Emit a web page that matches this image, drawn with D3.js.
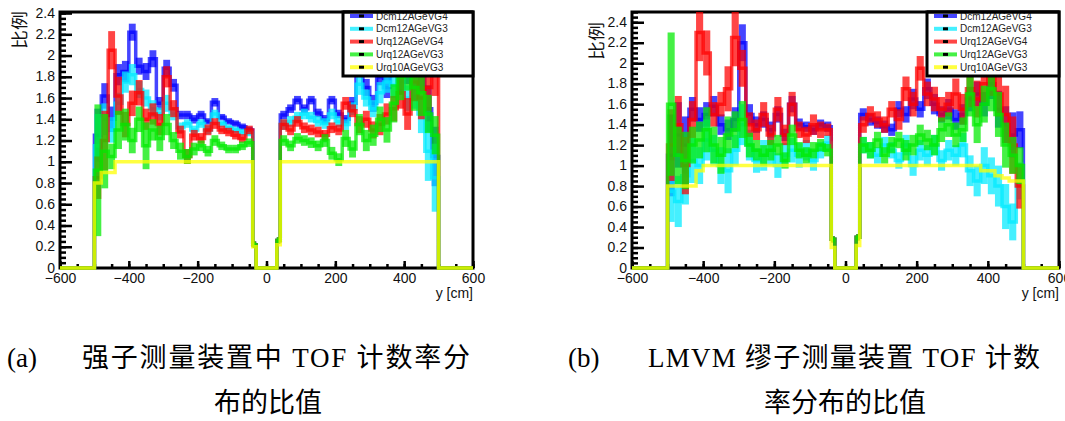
<!DOCTYPE html>
<html><head><meta charset="utf-8">
<script src="https://cdn.jsdelivr.net/npm/d3@7"></script>
<style>body{margin:0;background:#fff;} svg{display:block;}</style>
</head><body>
<svg id="c" width="1065" height="421"></svg>
<script>
// ---------- data ----------
const seriesNames = ["Dcm12AGeVG4","Dcm12AGeVG3","Urq12AGeVG4","Urq12AGeVG3","Urq10AGeVG3"];
const xTickValues = [-600,-400,-200,0,200,400,600];
const yTickValues = [0,0.2,0.4,0.6,0.8,1,1.2,1.4,1.6,1.8,2,2.2,2.4];
const leftEdges  = [-500,-480,-460,-440,-420,-400,-380,-360,-340,-320,-300,-280,-260,-240,-220,-200,-180,-160,-140,-120,-100,-80,-60,-40];
const rightEdges = [40,60,80,100,120,140,160,180,200,220,240,260,280,300,320,340,360,380,400,420,440,460,480,500];
const gapEdges = [-30, 30];

// panel (a)
const aDcmG4L = [1.25,1.62,1.40,1.82,1.85,2.22,1.90,1.85,1.97,1.55,1.88,1.72,1.44,1.44,1.40,1.44,1.38,1.56,1.42,1.38,1.36,1.33,1.30];
const aDcmG3L = [1.15,1.40,1.30,1.55,1.75,1.82,1.68,1.60,1.50,1.45,1.55,1.45,1.32,1.36,1.30,1.36,1.30,1.45,1.36,1.32,1.30,1.28,1.27];
const aUrqG4L = [0.85,1.20,2.05,1.62,1.35,1.55,1.65,1.40,1.45,1.35,1.80,1.50,1.28,1.05,1.25,1.22,1.30,1.36,1.30,1.28,1.25,1.22,1.30];
const aUrqG3L = [0.92,1.10,1.05,1.30,1.35,1.20,1.40,1.15,1.30,1.22,1.35,1.20,1.10,1.05,1.12,1.15,1.10,1.20,1.15,1.12,1.12,1.15,1.18];
const aU10G3L = [0.80,0.90,0.90,1,1,1,1,1,1,1,1,1,1,1,1,1,1,1,1,1,1,1,1];
const aDcmG4R = [1.44,1.50,1.58,1.50,1.58,1.46,1.40,1.58,1.45,1.40,1.55,1.95,1.70,1.55,1.80,1.70,1.95,1.75,1.85,1.70,1.80,1.50,1.05];
const aDcmG3R = [1.35,1.38,1.42,1.45,1.42,1.38,1.36,1.45,1.38,1.35,1.50,1.73,1.60,1.50,1.65,1.75,1.72,1.80,1.60,1.65,1.45,1.10,0.85];
const aUrqG4R = [1.35,1.30,1.38,1.32,1.30,1.28,1.25,1.32,1.30,1.55,1.48,1.35,1.40,1.30,1.35,1.45,1.50,1.65,1.45,1.75,1.60,1.70,1.90];
const aUrqG3R = [1.20,1.15,1.22,1.20,1.18,1.15,1.20,1.08,1.02,1.22,1.12,1.35,1.20,1.25,1.40,1.30,1.55,1.80,1.95,1.70,1.65,1.45,1.25];
const aU10G3R = [1,1,1,1,1,1,1,1,1,1,1,1,1,1,1,1,1,1,1,1,1,1,1];
const aDcmG4LErr = [0.25,0.12,0.12,0.10,0.10,0.08,0.08,0.08,0.08,0.06,0.08,0.06,0.04,0.04,0.04,0.04,0.03,0.04,0.03,0.03,0.03,0.03,0.03];
const aDcmG3LErr = [0.30,0.15,0.12,0.10,0.10,0.10,0.08,0.08,0.08,0.06,0.08,0.06,0.05,0.04,0.04,0.04,0.04,0.04,0.03,0.03,0.03,0.03,0.03];
const aUrqG4LErr = [0.20,0.28,0.18,0.18,0.12,0.12,0.12,0.10,0.10,0.10,0.10,0.08,0.06,0.07,0.05,0.05,0.05,0.05,0.04,0.04,0.04,0.04,0.04];
const aUrqG3LErr = [0.62,0.35,0.12,0.18,0.15,0.12,0.12,0.22,0.10,0.12,0.10,0.08,0.08,0.07,0.06,0.05,0.05,0.05,0.04,0.04,0.04,0.04,0.04];
const aDcmG4RErr = [0.04,0.04,0.04,0.04,0.04,0.04,0.04,0.04,0.04,0.04,0.06,0.10,0.08,0.08,0.08,0.10,0.12,0.12,0.12,0.12,0.15,0.22,0.28];
const aDcmG3RErr = [0.05,0.05,0.05,0.05,0.05,0.05,0.05,0.05,0.05,0.05,0.06,0.10,0.08,0.08,0.10,0.10,0.12,0.12,0.12,0.15,0.18,0.28,0.32];
const aUrqG4RErr = [0.05,0.05,0.05,0.05,0.05,0.05,0.05,0.05,0.05,0.06,0.06,0.08,0.08,0.08,0.10,0.10,0.12,0.15,0.15,0.18,0.20,0.22,0.28];
const aUrqG3RErr = [0.05,0.05,0.05,0.05,0.05,0.05,0.06,0.06,0.06,0.08,0.08,0.10,0.10,0.10,0.12,0.12,0.18,0.22,0.28,0.22,0.22,0.18,0.18];
const aGapValues = [0.22, 0.26];

// panel (b)
const bDcmG4L = [1.10,1.30,1.20,1.55,1.45,1.50,1.58,1.40,1.35,1.45,2.20,1.50,1.40,1.45,1.35,1.50,1.30,1.60,1.40,1.38,1.35,1.40,1.38];
const bDcmG3L = [0.75,0.65,0.90,1.05,1.00,1.25,1.15,1.00,0.95,1.15,1.40,1.20,1.05,1.10,1.15,1.00,1.10,1.15,1.10,1.15,1.05,1.15,1.22];
const bUrqG4L = [1.20,1.40,1.00,1.45,2.30,2.10,1.50,1.60,1.75,2.25,1.95,1.40,1.35,1.50,1.30,1.55,1.30,1.60,1.35,1.30,1.40,1.35,1.35];
const bUrqG3L = [1.60,1.10,1.05,1.20,1.25,1.35,1.20,1.10,1.30,1.35,1.45,1.20,1.15,1.10,1.15,1.20,1.05,1.30,1.15,1.10,1.15,1.20,1.15];
const bU10G3L = [0.80,0.80,0.80,0.80,0.95,1,1,1,1,1,1,1,1,1,1,1,1,1,1,1,1,1,1];
const bDcmG4R = [1.50,1.45,1.42,1.38,1.35,1.55,1.50,1.65,1.55,1.75,1.60,1.50,1.55,1.45,1.50,1.65,1.70,1.60,1.80,1.55,1.40,1.30,1.35];
const bDcmG3R = [1.20,1.15,1.10,1.20,1.15,1.05,1.20,1.00,1.15,1.10,1.20,1.05,1.15,1.10,1.20,0.95,0.85,1.00,0.90,0.80,0.60,0.45,0.85];
const bUrqG4R = [1.40,1.50,1.45,1.40,1.55,1.45,1.75,1.60,1.95,1.70,1.65,1.55,1.60,1.70,1.55,1.75,1.65,1.80,1.90,1.70,1.50,1.20,0.80];
const bUrqG3R = [1.20,1.15,1.25,1.10,1.20,1.25,1.15,1.20,1.30,1.25,1.20,1.35,1.40,1.30,1.35,1.70,1.40,1.60,1.75,1.50,1.20,1.10,1.00];
const bU10G3R = [1,1,1,1,1,1,1,1,1,1,1,1,1,1,1,1,1,0.95,0.95,0.90,0.88,0.85,0.85];
const bDcmG4LErr = [0.40,0.32,0.28,0.12,0.12,0.12,0.10,0.10,0.10,0.12,0.18,0.10,0.08,0.08,0.08,0.08,0.06,0.08,0.06,0.05,0.05,0.05,0.05];
const bDcmG3LErr = [0.30,0.25,0.28,0.22,0.18,0.20,0.15,0.18,0.22,0.15,0.20,0.15,0.12,0.15,0.15,0.12,0.12,0.12,0.12,0.10,0.10,0.08,0.08];
const bUrqG4LErr = [0.35,0.28,0.28,0.18,0.28,0.22,0.12,0.12,0.22,0.28,0.18,0.12,0.10,0.12,0.10,0.12,0.10,0.12,0.08,0.08,0.10,0.08,0.06];
const bUrqG3LErr = [0.70,0.28,0.28,0.18,0.18,0.22,0.18,0.18,0.18,0.18,0.18,0.12,0.10,0.10,0.10,0.10,0.08,0.10,0.08,0.08,0.08,0.06,0.06];
const bDcmG4RErr = [0.06,0.06,0.06,0.06,0.06,0.08,0.08,0.10,0.08,0.10,0.10,0.08,0.10,0.10,0.10,0.12,0.12,0.12,0.15,0.18,0.18,0.22,0.18];
const bDcmG3RErr = [0.08,0.08,0.08,0.08,0.08,0.08,0.10,0.10,0.10,0.10,0.10,0.10,0.10,0.10,0.12,0.15,0.15,0.18,0.18,0.20,0.22,0.18,0.18];
const bUrqG4RErr = [0.08,0.08,0.08,0.08,0.08,0.10,0.12,0.12,0.12,0.12,0.12,0.12,0.12,0.15,0.15,0.18,0.18,0.18,0.22,0.22,0.28,0.28,0.22];
const bUrqG3RErr = [0.08,0.08,0.08,0.08,0.08,0.08,0.10,0.10,0.10,0.10,0.10,0.12,0.12,0.12,0.12,0.22,0.18,0.18,0.22,0.22,0.22,0.18,0.18];
const bGapValues = [0.28, 0.30];
const u10GapValues = [0.20, 0.22];

const captionA1 = "强子测量装置中 TOF 计数率分", captionA2 = "布的比值";
const captionB1 = "LMVM 缪子测量装置 TOF 计数", captionB2 = "率分布的比值";

// ---------- style ----------
const seriesColors = ["rgba(0,0,255,0.73)","rgba(0,235,255,0.73)","rgba(255,0,0,0.73)","rgba(0,235,0,0.73)","rgba(255,255,0,0.75)"];

const edges = [-600, ...leftEdges, ...gapEdges, ...rightEdges, 600];
function fullSeries(L, gap, R){ return [0, ...L, gap[0], 0, gap[1], ...R, 0]; }
function fullErr(L, R){ return [0, ...L, 0.03, 0, 0.03, ...R, 0]; }

const panels = [
  { x0:60, x1:473, yTop:12, yBot:268, ymax:2.41,
    legend:{x0:343,x1:473,y0:12,y1:76}, yTitle:{x:26,y:49},
    series:[
      fullSeries(aDcmG4L,aGapValues,aDcmG4R), fullSeries(aDcmG3L,aGapValues,aDcmG3R),
      fullSeries(aUrqG4L,aGapValues,aUrqG4R), fullSeries(aUrqG3L,aGapValues,aUrqG3R),
      fullSeries(aU10G3L,u10GapValues,aU10G3R)],
    errors:[fullErr(aDcmG4LErr,aDcmG4RErr), fullErr(aDcmG3LErr,aDcmG3RErr),
      fullErr(aUrqG4LErr,aUrqG4RErr), fullErr(aUrqG3LErr,aUrqG3RErr), null] },
  { x0:632, x1:1059, yTop:12, yBot:268, ymax:2.5,
    legend:{x0:927,x1:1059,y0:12,y1:76}, yTitle:{x:603,y:60},
    series:[
      fullSeries(bDcmG4L,bGapValues,bDcmG4R), fullSeries(bDcmG3L,bGapValues,bDcmG3R),
      fullSeries(bUrqG4L,bGapValues,bUrqG4R), fullSeries(bUrqG3L,bGapValues,bUrqG3R),
      fullSeries(bU10G3L,u10GapValues,bU10G3R)],
    errors:[fullErr(bDcmG4LErr,bDcmG4RErr), fullErr(bDcmG3LErr,bDcmG3RErr),
      fullErr(bUrqG4LErr,bUrqG4RErr), fullErr(bUrqG3LErr,bUrqG3RErr), null] }
];

const svg = d3.select("#c");
const sansFont = "'Liberation Sans', Arial, sans-serif";

panels.forEach((P, pi) => {
  const x = d3.scaleLinear().domain([-600,600]).range([P.x0,P.x1]);
  const y = d3.scaleLinear().domain([0,P.ymax]).range([P.yBot,P.yTop]);
  const g = svg.append("g");
  const clipId = "clip"+pi;
  svg.append("clipPath").attr("id",clipId).append("rect")
    .attr("x",P.x0).attr("y",P.yTop).attr("width",P.x1-P.x0).attr("height",P.yBot-P.yTop+3);

  g.append("rect").attr("x",P.x0).attr("y",P.yTop).attr("width",P.x1-P.x0).attr("height",P.yBot-P.yTop)
    .attr("fill","none").attr("stroke","#000").attr("stroke-width",3);

  const yMinor = d3.range(0, P.ymax+1e-9, 0.05);
  const gyMin = g.append("g").attr("transform",`translate(${P.x0},0)`)
    .call(d3.axisLeft(y).tickValues(yMinor).tickSize(-6).tickFormat(""));
  const gy = g.append("g").attr("transform",`translate(${P.x0},0)`)
    .call(d3.axisLeft(y).tickValues(yTickValues).tickSize(-12).tickPadding(5).tickFormat(d3.format("~g")));
  const xMinor = d3.range(-600, 601, 50);
  const gxMin = g.append("g").attr("transform",`translate(0,${P.yBot})`)
    .call(d3.axisBottom(x).tickValues(xMinor).tickSize(-4).tickFormat(""));
  const gx = g.append("g").attr("transform",`translate(0,${P.yBot})`)
    .call(d3.axisBottom(x).tickValues(xTickValues).tickSize(-7).tickPadding(5).tickFormat(d3.format("d")));
  [gyMin,gy,gxMin,gx].forEach(a => {
    a.select(".domain").remove();
    a.selectAll("line").attr("stroke","#000").attr("stroke-width",2.5);
    a.selectAll("text").attr("font-family",sansFont).attr("font-size",14).attr("fill","#111");
  });
  gy.selectAll("text").attr("dy","0.3em");

  const data = g.append("g").attr("clip-path",`url(#${clipId})`);
  const line = d3.line().x(d=>x(d[0])).y(d=>y(d[1])).curve(d3.curveStepAfter);
  P.series.forEach((vals, si) => {
    const col = seriesColors[si];
    const errs = P.errors[si];
    if (errs) {
      const bins = vals.map((v,i)=>({lo:edges[i],hi:edges[i+1],v,e:errs[i]})).filter(b=>b.e>0);
      data.append("g").selectAll("rect").data(bins).join("rect")
        .attr("x",b=>x(b.lo)).attr("width",b=>x(b.hi)-x(b.lo))
        .attr("y",b=>y(b.v+b.e)).attr("height",b=>y(b.v-b.e)-y(b.v+b.e))
        .attr("fill",col);
    }
    const pts = vals.map((v,i)=>[edges[i],v]);
    pts.push([edges[edges.length-1], vals[vals.length-1]]);
    data.append("path").attr("d",line(pts)).attr("fill","none")
      .attr("stroke",col).attr("stroke-width",3.5);
  });

  g.append("text").attr("x",P.x1).attr("y",298).attr("text-anchor","end")
    .attr("font-family",sansFont).attr("font-size",14).attr("fill","#111").text("y [cm]");
  g.append("text").attr("transform",`translate(${P.yTitle.x},${P.yTitle.y}) rotate(-90)`)
    .attr("font-family","'Noto Sans CJK SC', sans-serif").attr("font-size",17)
    .attr("textLength",38).attr("lengthAdjust","spacingAndGlyphs").attr("fill","#111").text("比例");

  const L = P.legend;
  const lg = g.append("g");
  lg.append("rect").attr("x",L.x0).attr("y",L.y0).attr("width",L.x1-L.x0).attr("height",L.y1-L.y0)
    .attr("fill","#fff").attr("stroke","#000").attr("stroke-width",3);
  seriesNames.forEach((name, i) => {
    const by = 19.5 + i*12.8;
    const cy = by - 3.5;
    lg.append("line").attr("x1",L.x0+7).attr("x2",L.x0+30).attr("y1",cy).attr("y2",cy)
      .attr("stroke",seriesColors[i]).attr("stroke-width",4);
    lg.append("rect").attr("x",L.x0+16).attr("y",cy-1.5).attr("width",5).attr("height",3).attr("fill","#000");
    lg.append("text").attr("x",L.x0+33).attr("y",by).attr("font-family",sansFont).attr("font-size",10)
      .attr("fill","#222").text(name);
  });
  lg.append("line").attr("x1",L.x0).attr("x2",L.x1).attr("y1",L.y0).attr("y2",L.y0)
    .attr("stroke","#000").attr("stroke-width",3);
});

const capFont = "'Liberation Serif', 'Times New Roman', 'Noto Sans CJK SC', serif";
function cap(txt, xx, yy, opts){
  const t = svg.append("text").attr("x",xx).attr("y",yy).attr("font-family",capFont)
    .attr("font-size",27).attr("fill","#000").text(txt);
  if (opts && opts.len) t.attr("textLength",opts.len).attr("lengthAdjust","spacing");
  if (opts && opts.anchor) t.attr("text-anchor",opts.anchor);
  return t;
}
cap("(a)", 7, 367);
cap(captionA1, 82, 367, {len:388});
cap(captionA2, 268, 412, {anchor:"middle"});
cap("(b)", 568, 367);
cap(captionB1, 648, 367, {len:392});
cap(captionB2, 845, 412, {anchor:"middle"});
</script>
</body></html>
